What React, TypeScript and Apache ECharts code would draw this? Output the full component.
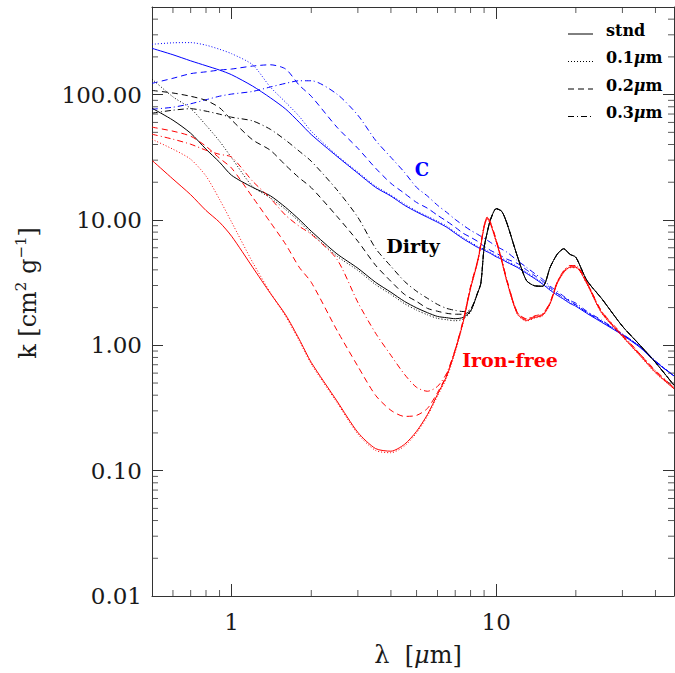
import React, { useEffect, useRef } from "react";
import * as echarts from "echarts";

// wavelength grid (micron)
const lambda = [0.5, 0.6, 0.7, 0.8, 0.9, 1, 1.2, 1.4, 1.6, 1.8, 2, 2.5, 3, 3.5, 4, 4.5, 5, 5.5, 6, 6.5, 7, 7.5, 8, 8.5, 8.75, 9, 9.25, 9.5, 10, 10.5, 11, 12, 13, 14, 15, 16, 17, 18, 19, 20, 22, 25, 30, 35, 40, 47];

// C (blue)
const cStnd = [234, 208, 186, 170, 157, 144, 117, 94.4, 76.7, 60.2, 48, 32.2, 23.6, 18.2, 15.5, 13.1, 11.6, 10.5, 9.59, 8.75, 7.83, 7.08, 6.52, 6.05, 5.89, 5.73, 5.57, 5.42, 5.08, 4.86, 4.59, 4.19, 3.76, 3.40, 3.07, 2.75, 2.51, 2.33, 2.16, 2.05, 1.80, 1.53, 1.21, 0.96, 0.74, 0.57];
const cA01 = [252, 259, 260, 248, 230, 212, 173, 115, 86.9, 67.2, 51, 32.8, 24.1, 18.6, 15.8, 13.4, 11.8, 10.7, 9.78, 8.93, 7.99, 7.22, 6.65, 6.17, 6.01, 5.84, 5.68, 5.53, 5.18, 4.96, 4.68, 4.27, 3.84, 3.47, 3.13, 2.81, 2.56, 2.38, 2.20, 2.09, 1.84, 1.56, 1.23, 0.98, 0.75, 0.57];
const cA02 = [123, 135, 147, 152, 157, 160, 169, 173, 160, 119, 97, 55.0, 37.3, 25.9, 19.6, 16.3, 13.8, 12.4, 10.9, 9.77, 8.75, 7.83, 7.28, 6.76, 6.45, 6.17, 5.95, 5.73, 5.42, 5.13, 4.86, 4.51, 4.01, 3.59, 3.24, 2.88, 2.60, 2.42, 2.24, 2.11, 1.83, 1.56, 1.22, 0.97, 0.74, 0.57];
const cA03 = [76.4, 79.3, 84.5, 91.0, 97.1, 101, 106, 115, 123, 129, 129, 101, 68.5, 43.2, 31.6, 24.0, 18.2, 15.5, 13.1, 11.5, 10.1, 9.07, 8.27, 7.69, 7.41, 7.14, 6.89, 6.64, 6.17, 5.84, 5.52, 4.76, 4.20, 3.73, 3.36, 2.96, 2.70, 2.46, 2.28, 2.17, 1.87, 1.59, 1.23, 0.98, 0.75, 0.57];

// Dirty (black)
const dStnd = [77.9, 62.5, 49.2, 36.7, 28.9, 22.7, 18.2, 15.6, 12.6, 10.1, 8.13, 5.37, 4.12, 3.18, 2.65, 2.24, 1.99, 1.82, 1.70, 1.66, 1.63, 1.67, 1.87, 2.60, 3.12, 6.0, 7.96, 9.95, 12.3, 11.7, 9.3, 5.2, 3.30, 2.98, 2.96, 4.20, 5.32, 5.89, 5.32, 5.04, 3.30, 2.37, 1.42, 1.00, 0.73, 0.48];
const dA01 = [133, 96, 77.5, 57, 42.5, 31.3, 18.5, 15.0, 12.1, 9.7, 7.8, 5.15, 3.96, 3.05, 2.55, 2.15, 1.91, 1.75, 1.64, 1.60, 1.57, 1.62, 1.84, 2.60, 3.12, 6.0, 7.96, 9.95, 12.3, 11.7, 9.3, 5.2, 3.30, 2.98, 2.96, 4.20, 5.32, 5.89, 5.32, 5.04, 3.30, 2.37, 1.42, 1.00, 0.73, 0.48];
const dA02 = [108, 103, 97, 90, 78.6, 62.7, 43.6, 36.0, 27.3, 21.7, 18.1, 10.7, 6.76, 4.35, 3.24, 2.55, 2.24, 1.97, 1.87, 1.80, 1.77, 1.77, 1.90, 2.60, 3.12, 6.0, 7.96, 9.95, 12.3, 11.7, 9.3, 5.2, 3.30, 2.98, 2.96, 4.20, 5.32, 5.89, 5.32, 5.04, 3.30, 2.37, 1.42, 1.00, 0.73, 0.48];
const dA03 = [71.1, 75.1, 77.2, 73.8, 69.8, 66.0, 61.7, 52.9, 43.3, 35.4, 29.4, 17.4, 10.5, 5.94, 4.27, 3.24, 2.70, 2.37, 2.12, 1.97, 1.90, 1.86, 1.94, 2.62, 3.14, 6.0, 7.96, 9.95, 12.3, 11.7, 9.3, 5.2, 3.30, 2.98, 2.96, 4.20, 5.32, 5.89, 5.32, 5.04, 3.30, 2.37, 1.42, 1.00, 0.73, 0.48];

// Iron-free (red)
const iStnd = [29.9, 21.2, 15.9, 11.9, 9.59, 7.41, 4.20, 2.60, 1.75, 1.12, 0.73, 0.36, 0.202, 0.150, 0.143, 0.162, 0.206, 0.281, 0.406, 0.57, 0.91, 1.53, 2.85, 4.60, 6.28, 8.75, 10.3, 9.42, 6.76, 4.68, 3.18, 1.80, 1.58, 1.67, 1.74, 2.16, 3.12, 3.83, 4.20, 4.20, 3.12, 1.83, 1.18, 0.83, 0.61, 0.45];
const iA01 = [44, 36.7, 30.5, 22.4, 14.6, 9.6, 4.60, 2.64, 1.70, 1.09, 0.71, 0.35, 0.196, 0.145, 0.139, 0.157, 0.200, 0.273, 0.394, 0.55, 0.88, 1.51, 2.82, 4.55, 6.22, 8.66, 10.2, 9.33, 6.69, 4.63, 3.15, 1.78, 1.56, 1.65, 1.72, 2.14, 3.09, 3.79, 4.16, 4.16, 3.09, 1.81, 1.17, 0.82, 0.60, 0.45];
const iA02 = [55.0, 51.1, 46.6, 38.7, 31.1, 25.9, 15.2, 9.59, 6.40, 4.20, 3.18, 1.32, 0.680, 0.399, 0.303, 0.271, 0.276, 0.314, 0.42, 0.58, 0.92, 1.56, 2.91, 4.69, 6.41, 8.93, 10.5, 9.61, 6.90, 4.77, 3.24, 1.84, 1.61, 1.70, 1.77, 2.20, 3.18, 3.91, 4.28, 4.28, 3.18, 1.87, 1.20, 0.85, 0.62, 0.46];
const iA03 = [48.3, 44.1, 40.2, 36.0, 33.4, 31.7, 20.4, 14.9, 10.9, 8.91, 7.69, 4.86, 2.20, 1.25, 0.832, 0.587, 0.462, 0.430, 0.47, 0.60, 0.93, 1.58, 2.94, 4.74, 6.47, 9.01, 10.6, 9.70, 6.96, 4.82, 3.28, 1.85, 1.63, 1.72, 1.79, 2.22, 3.21, 3.94, 4.33, 4.33, 3.21, 1.88, 1.22, 0.85, 0.63, 0.46];

const legendLabels = ["stnd", "0.1", "0.2", "0.3"];
const materialLabels = ["C", "Dirty", "Iron-free"];
const xMinorTicks = [0.6, 0.7, 0.8, 0.9, 2, 3, 4, 5, 6, 7, 8, 9, 20, 30, 40];
const yMinorTicks = [0.02, 0.03, 0.04, 0.05, 0.06, 0.07, 0.08, 0.09, 0.2, 0.3, 0.4, 0.5, 0.6, 0.7, 0.8, 0.9, 2, 3, 4, 5, 6, 7, 8, 9, 20, 30, 40, 50, 60, 70, 80, 90, 200, 300, 400];

const X_MIN = 0.5;
const X_MAX = 47;
const Y_MIN = 0.01;
const Y_MAX = 500;

const BLUE = "#0000ff";
const RED = "#ff0000";
const BLACK = "#000000";
const AXIS = "#333333";
const SERIF = "DejaVu Serif";

const DOT = [1, 2];
const DASH = [6, 4];
const DASHDOT = [6, 3, 1, 3];
const styles: any[] = ["solid", DOT, DASH, DASHDOT];

const groups = [
  { color: BLUE, sets: [cStnd, cA01, cA02, cA03] },
  { color: BLACK, sets: [dStnd, dA01, dA02, dA03] },
  { color: RED, sets: [iStnd, iA01, iA02, iA03] },
];

function buildOption() {
  const series: any[] = [];
  groups.forEach((g, gi) => {
    g.sets.forEach((vals, si) => {
      series.push({
        type: "line",
        name: materialLabels[gi] + " " + legendLabels[si],
        data: lambda.map((l, i) => [l, vals[i]]),
        showSymbol: false,
        symbol: "none",
        smooth: 0.25,
        silent: true,
        lineStyle: { color: g.color, width: 1, type: styles[si] },
        z: 2,
      });
    });
  });
  const tickSeries = (data: number[][], size: number[], offset: number[]) => ({
    type: "scatter",
    data,
    symbol: "rect",
    symbolSize: size,
    symbolOffset: offset,
    itemStyle: { color: AXIS },
    silent: true,
    clip: false,
    z: 5,
  });
  series.push(tickSeries(xMinorTicks.map((v) => [v, Y_MIN]), [1, 6], [0, -3]));
  series.push(tickSeries(xMinorTicks.map((v) => [v, Y_MAX]), [1, 6], [0, 3]));
  series.push(tickSeries(yMinorTicks.map((v) => [X_MIN, v]), [6, 1], [3, 0]));
  series.push(tickSeries(yMinorTicks.map((v) => [X_MAX, v]), [6, 1], [-3, 0]));

  const lineSt = { color: AXIS, width: 1 };
  const xFmt = (v: number) => {
    const r = Math.round(v);
    return Math.abs(v - r) < 1e-6 && (r === 1 || r === 10) ? String(r) : "";
  };
  const yFmt = (v: number) => {
    const l = Math.log10(v);
    const e = Math.round(l);
    if (Math.abs(l - e) > 1e-6) return "";
    return Math.pow(10, e).toFixed(2);
  };
  const labelStyle = { fontFamily: SERIF, fontSize: 23, color: "#1a1a1a" };
  const xBase = {
    type: "log",
    logBase: 10,
    min: X_MIN,
    max: X_MAX,
    splitLine: { show: false },
    axisLine: { show: true, onZero: false, lineStyle: lineSt },
    axisTick: { show: true, inside: true, length: 12, lineStyle: lineSt },
  };
  const yBase = {
    type: "log",
    logBase: 10,
    min: Y_MIN,
    max: Y_MAX,
    splitLine: { show: false },
    axisLine: { show: true, onZero: false, lineStyle: lineSt },
    axisTick: { show: true, inside: true, length: 11, lineStyle: lineSt },
  };

  const legendY = [30, 57.5, 85, 112.5];
  const legendGraphics: any[] = [];
  legendLabels.forEach((lab, i) => {
    legendGraphics.push({
      type: "line",
      shape: { x1: 568, y1: legendY[i] + 4, x2: 593, y2: legendY[i] + 4 },
      style: { stroke: BLACK, lineWidth: 1, lineDash: i === 0 ? null : styles[i] },
    });
    legendGraphics.push({
      type: "text",
      x: 606,
      y: legendY[i],
      style: {
        text: i === 0 ? "{a|" + lab + "}" : "{a|" + lab + "}{i|μ}{a|m}",
        rich: {
          a: { fontFamily: SERIF, fontSize: 16, fontWeight: "bold", fill: BLACK },
          i: { fontFamily: SERIF, fontSize: 16, fontWeight: "bold", fontStyle: "italic", fill: BLACK },
        },
        verticalAlign: "middle",
        align: "left",
      },
    });
  });

  return {
    animation: false,
    backgroundColor: "#ffffff",
    textStyle: { fontFamily: SERIF },
    grid: { left: 152, top: 7, width: 522, height: 589, containLabel: false },
    xAxis: [
      { ...xBase, position: "bottom", axisLabel: { ...labelStyle, margin: 14, formatter: xFmt, showMinLabel: false, showMaxLabel: false } },
      { ...xBase, position: "top", axisLabel: { show: false } },
    ],
    yAxis: [
      { ...yBase, position: "left", axisLabel: { ...labelStyle, margin: 10, formatter: yFmt } },
      { ...yBase, position: "right", axisLabel: { show: false } },
    ],
    series,
    graphic: [
      {
        type: "text",
        x: 418,
        y: 655,
        style: {
          text: "{a|λ  [}{i|μ}{a|m]}",
          rich: {
            a: { fontFamily: SERIF, fontSize: 24, fill: "#1a1a1a" },
            i: { fontFamily: SERIF, fontSize: 24, fontStyle: "italic", fill: "#1a1a1a" },
          },
          align: "center",
          verticalAlign: "middle",
        },
      },
      {
        type: "text",
        x: 28,
        y: 293,
        rotation: Math.PI / 2,
        style: {
          text: "{a|k [cm}{s|2}{a| g}{s|−1}{a|]}",
          rich: {
            a: { fontFamily: SERIF, fontSize: 24, fill: "#1a1a1a" },
            s: { fontFamily: SERIF, fontSize: 15, fill: "#1a1a1a", padding: [0, 0, 14, 0] },
          },
          align: "center",
          verticalAlign: "middle",
        },
      },
      {
        type: "text",
        x: 422,
        y: 169,
        style: { text: materialLabels[0], fontFamily: SERIF, fontSize: 18, fontWeight: "bold", fill: BLUE, align: "center", verticalAlign: "middle" },
      },
      {
        type: "text",
        x: 413,
        y: 246,
        style: { text: materialLabels[1], fontFamily: SERIF, fontSize: 19, fontWeight: "bold", fill: BLACK, align: "center", verticalAlign: "middle" },
      },
      {
        type: "text",
        x: 510,
        y: 360,
        style: { text: materialLabels[2], fontFamily: SERIF, fontSize: 19, fontWeight: "bold", fill: RED, align: "center", verticalAlign: "middle" },
      },
      ...legendGraphics,
    ],
  };
}

export default function App() {
  const ref = useRef<HTMLDivElement>(null);
  useEffect(() => {
    if (!ref.current) return;
    const chart = echarts.init(ref.current, null, { renderer: "svg" });
    chart.setOption(buildOption() as any);
    return () => chart.dispose();
  }, []);
  return (
    <div
      ref={ref}
      style={{ position: "absolute", left: 0, top: 0, width: 675, height: 673, background: "#fff" }}
    />
  );
}
